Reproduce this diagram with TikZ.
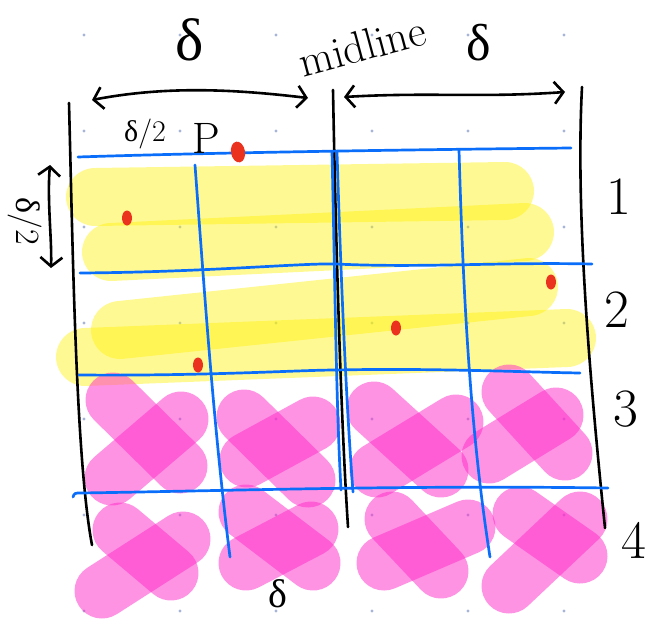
\documentclass[tikz,border=0pt]{standalone}
\usepackage{fontspec}
\newfontfamily\gk{Liberation Serif}
\usetikzlibrary{arrows.meta}
\definecolor{gridc}{RGB}{165,180,215}
\definecolor{pinkc}{RGB}{255,40,200}
\definecolor{bluec}{RGB}{10,110,250}
\definecolor{redc}{RGB}{235,50,30}
\tikzset{
  gdot/.style={fill=gridc, draw=none},
  hl/.style={draw=yellow, line width=58pt, opacity=0.42, line cap=round},
  px/.style={draw=pinkc, line width=55pt, opacity=0.5, line cap=round},
  pen/.style={draw=black, line width=2.6pt, line cap=round},
  bl/.style={draw=bluec, line width=2.7pt, line cap=round},
  rd/.style={fill=redc, draw=none},
  dimarr/.style={pen, {Straight Barb[length=9pt,width=22pt]}-{Straight Barb[length=9pt,width=22pt]}},
  lbl/.style={inner sep=0pt, text=black}
}
\begin{document}
\begin{tikzpicture}[x=1pt,y=-1pt, line join=round]
\useasboundingbox (0,0) rectangle (652,621);
\fill[white] (0,0) rectangle (652,621);
% dot grid
\foreach \i in {0,...,5} {
  \foreach \j in {0,...,6} {
    \fill[gdot] ({84+96*\i},{35+96*\j}) circle (1.6);
  }
}
% yellow highlights (rows 1 and 2)
\draw[hl] (95,197) -- (505,191);
\draw[hl] (111,252) -- (525,232);
\draw[hl] (120,330) -- (529,287);
\draw[hl] (85,357) -- (567,338);
% pink crosses (rows 3 and 4)
\draw[px] (113,400) -- (180,466);
\draw[px] (181,419) -- (112,478);
\draw[px] (244,417) -- (308,480);
\draw[px] (313,424) -- (247,460);
\draw[px] (374,409) -- (441,470);
\draw[px] (456,422) -- (377,470);
\draw[px] (509,392) -- (565,453);
\draw[px] (556,415) -- (489,456);
\draw[px] (120,530) -- (171,573);
\draw[px] (183,539) -- (102,591);
\draw[px] (246,512) -- (313,563);
\draw[px] (311,529) -- (246,563);
\draw[px] (392,519) -- (441,571);
\draw[px] (468,527) -- (384,563);
\draw[px] (520,514) -- (580,556);
\draw[px] (580,519) -- (509,586);
% black boundary lines
\coordinate (Lt) at (69,103);  \coordinate (Lb) at (92,545);
\coordinate (Mt) at (333,90);  \coordinate (Mb) at (348,527);
\coordinate (Rt) at (582,87);  \coordinate (Rb) at (605,528);
\draw[pen] (Lt) .. controls (73,260) and (76,460) .. (Lb);
\draw[pen] (Mt) .. controls (336,250) and (341,420) .. (Mb);
\draw[pen] (Rt) .. controls (575,220) and (592,400) .. (Rb);
% blue grid
\draw[bl] (78,157) .. controls (200,153) and (380,150) .. (571,148);
\draw[bl] (80,273) .. controls (210,272) and (300,263) .. (336,264) .. controls (420,268) and (500,262) .. (592,264);
\draw[bl] (79,375) .. controls (210,376) and (300,370) .. (336,370) .. controls (430,368) and (520,372) .. (580,373);
\draw[bl] (73,497) .. controls (74,493) and (76,493) .. (80,493) .. controls (220,491) and (400,485) .. (608,488);
\draw[bl] (195,165) .. controls (205,300) and (214,430) .. (230,557);
\draw[bl] (332,152) .. controls (335,280) and (336,400) .. (341,490);
\draw[bl] (337,152) .. controls (341,280) and (346,400) .. (353,492);
\draw[bl] (459,150) .. controls (463,290) and (470,430) .. (490,557);
% red dots
\fill[rd, rotate around={10:(238,152)}] (238,152) ellipse (7 and 10.5);
\fill[rd] (127,218) ellipse (5 and 7.5);
\fill[rd] (551,282) ellipse (5 and 7.5);
\fill[rd] (396,328) ellipse (5 and 7.5);
\fill[rd] (198,365) ellipse (5 and 7.5);
% dimension arrows
\coordinate (a1) at (92,100); \coordinate (a2) at (308,98);
\coordinate (a3) at (344,97); \coordinate (a4) at (565,92);
\coordinate (a5) at (50,165); \coordinate (a6) at (51,268);
\draw[dimarr] (a1) .. controls (170,85) and (240,90) .. (a2);
\draw[dimarr] (a3) .. controls (430,92) and (480,98) .. (a4);
\draw[dimarr] (a5) .. controls (47,200) and (52,240) .. (a6);
% labels
\node[lbl] (dL) at (190,40) {\fontsize{60}{60}\selectfont\gk δ};
\node[lbl, rotate=15] (mid) at (362,46) {\fontsize{44}{44}\selectfont midline};
\node[lbl] (dR) at (479,43) {\fontsize{52}{52}\selectfont\gk δ};
\node[lbl] (half) at (145,134) {\fontsize{30}{30}\selectfont{\gk δ}/2};
\node[lbl, anchor=base] (P) at (206,153) {\fontsize{44}{44}\selectfont P};
\node[lbl, rotate=-90] (side) at (25,221) {\fontsize{34}{34}\selectfont{\gk δ}/2};
\node[lbl] (dB) at (278,594) {\fontsize{40}{40}\selectfont\gk δ};
\node[lbl] (r1) at (619,197) {\fontsize{54}{54}\selectfont 1};
\node[lbl] (r2) at (617,310) {\fontsize{54}{54}\selectfont 2};
\node[lbl] (r3) at (626,409) {\fontsize{54}{54}\selectfont 3};
\node[lbl] (r4) at (634,540) {\fontsize{54}{54}\selectfont 4};
\end{tikzpicture}
\end{document}
